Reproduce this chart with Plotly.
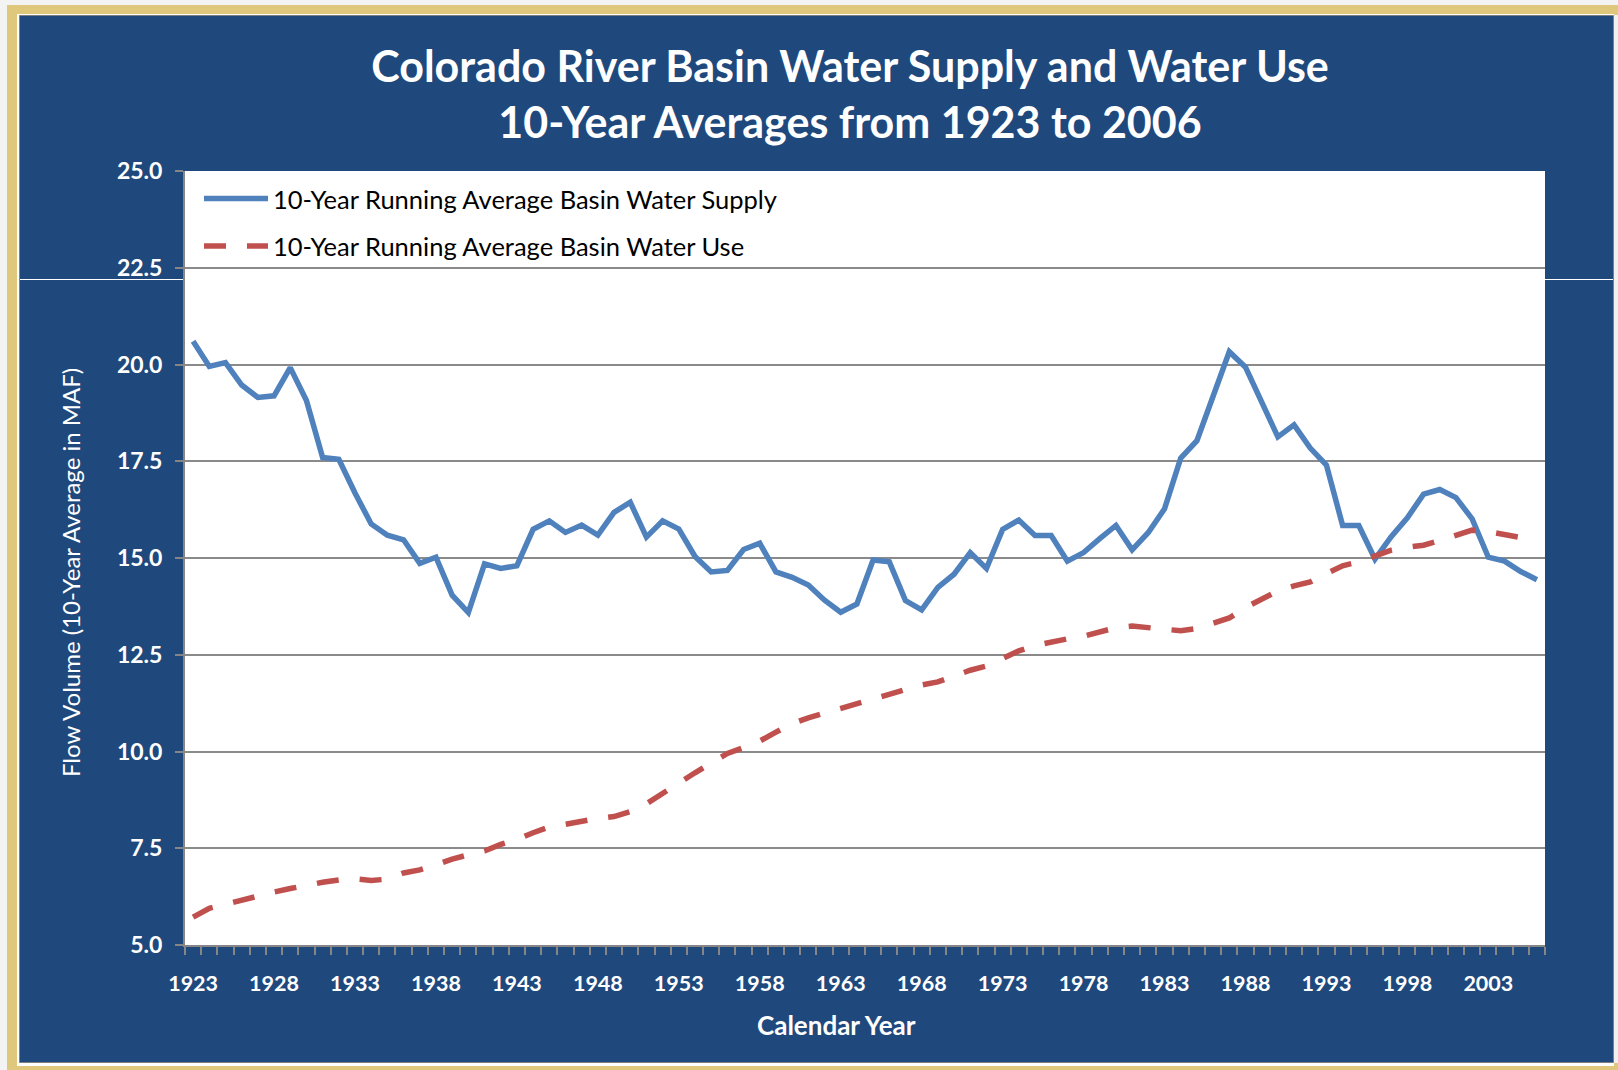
import plotly.graph_objects as go

years = list(range(1923, 2007))

supply = [20.6, 19.95, 20.05, 19.47, 19.15, 19.19, 19.92, 19.07, 17.6, 17.55,
          16.68, 15.88, 15.59, 15.47, 14.86, 15.02, 14.04, 13.59, 14.85, 14.73,
          14.8, 15.74, 15.96, 15.66, 15.85, 15.59, 16.18, 16.44, 15.54, 15.96,
          15.75, 15.04, 14.64, 14.68, 15.22, 15.38, 14.64, 14.5, 14.3, 13.91,
          13.6, 13.81, 14.95, 14.9, 13.9, 13.66, 14.24, 14.58, 15.14, 14.73,
          15.74, 15.98, 15.58, 15.58, 14.92, 15.14, 15.5, 15.84, 15.21, 15.66,
          16.27, 17.58, 18.03, 19.17, 20.33, 19.93, 19.02, 18.13, 18.44, 17.84,
          17.4, 15.84, 15.84, 14.97, 15.55, 16.04, 16.65, 16.77, 16.56, 16.01,
          15.02, 14.92, 14.65, 14.44]

use = [5.72, 5.95, 6.05, 6.16, 6.29, 6.37, 6.46, 6.55, 6.62, 6.68,
       6.71, 6.67, 6.70, 6.86, 6.94, 7.07, 7.22, 7.33, 7.43, 7.60,
       7.73, 7.90, 8.05, 8.12, 8.20, 8.27, 8.32, 8.45, 8.65, 8.93,
       9.17, 9.45, 9.70, 9.95, 10.10, 10.27, 10.50, 10.72, 10.87, 10.99,
       11.10, 11.22, 11.34, 11.46, 11.60, 11.72, 11.80, 11.95, 12.10, 12.21,
       12.40, 12.60, 12.74, 12.84, 12.91, 12.98, 13.10, 13.20, 13.24, 13.20,
       13.15, 13.12, 13.18, 13.32, 13.45, 13.72, 13.95, 14.15, 14.28, 14.38,
       14.60, 14.80, 14.90, 15.05, 15.20, 15.28, 15.33, 15.45, 15.60, 15.72,
       15.68, 15.60, 15.53, 15.40]

x_ticks = list(range(1923, 2004, 5))
y_ticks = [5.0, 7.5, 10.0, 12.5, 15.0, 17.5, 20.0, 22.5, 25.0]

series_names = ["10-Year Running Average Basin Water Supply",
                "10-Year Running Average Basin Water Use"]

title_text = "Colorado River Basin Water Supply and Water Use<br>10-Year Averages from 1923 to 2006"

W, H = 1618, 1070
L, R, T, B = 185, 1545, 171, 945
BLUE_BG = "#1F497D"
GOLD = "#DFC77C"
FONT = "Lato"

fig = go.Figure()
fig.add_trace(go.Scatter(
    x=years, y=supply, mode="lines", name=series_names[0],
    line=dict(color="#4F81BD", width=5.5), legend="legend"))
fig.add_trace(go.Scatter(
    x=years, y=use, mode="lines", name=series_names[1],
    line=dict(color="#C0504D", width=5.5, dash="22px,21px"), legend="legend2"))


def px_rect(x0, y0, x1, y1, fill, lw=0, lc=None):
    return dict(type="rect", xref="paper", yref="paper",
                x0=(x0 - L) / (R - L), x1=(x1 - L) / (R - L),
                y0=(B - y1) / (B - T), y1=(B - y0) / (B - T),
                fillcolor=fill, line=dict(width=lw, color=lc or fill), layer="below")


shapes = [
    px_rect(0, 0, W, H, "#F3F3F3"),
    px_rect(7, 5, W, H, GOLD),
    px_rect(1614, 15, W, 1063, "#F0F0F0"),
    px_rect(17, 14, 1614, 1066, "#FFFFFF"),
    px_rect(19.5, 15.5, 1613.5, 1062.5, BLUE_BG, lw=1, lc="#7F7F7F"),
    dict(type="line", xref="paper", yref="paper",
         x0=(20 - L) / (R - L), x1=(1613 - L) / (R - L),
         y0=(B - 279.5) / (B - T), y1=(B - 279.5) / (B - T),
         line=dict(color="#FFFFFF", width=1), layer="below"),
    dict(type="rect", xref="paper", yref="paper", x0=0, x1=1, y0=0, y1=1,
         fillcolor="#FFFFFF", line_width=0, layer="below"),
]

fig.update_layout(
    width=W, height=H,
    margin=dict(l=L, r=W - R, t=T, b=H - B, pad=0),
    paper_bgcolor="#F3F3F3",
    plot_bgcolor="#FFFFFF",
    font=dict(family=FONT, color="white"),
    title=dict(text=f"<b>{title_text}</b>", x=850 / W, xanchor="center",
               xref="container", y=1 - 82 / H, yanchor="middle", yref="container",
               font=dict(family=FONT, size=43, color="white")),
    shapes=shapes,
    showlegend=True,
    legend=dict(x=(199 - L) / (R - L), y=(B - 199) / (B - T), xanchor="left", yanchor="middle",
                bgcolor="rgba(0,0,0,0)", font=dict(family=FONT, size=25.5, color="black"),
                itemwidth=64, borderwidth=0),
    legend2=dict(x=(199 - L) / (R - L), y=(B - 246.5) / (B - T), xanchor="left", yanchor="middle",
                 bgcolor="rgba(0,0,0,0)", font=dict(family=FONT, size=25.5, color="black"),
                 itemwidth=64, borderwidth=0),
    xaxis=dict(range=[years[0] - 0.5, years[-1] + 0.5], tickmode="array", tickvals=x_ticks,
               ticktext=[str(v) for v in x_ticks], ticks="", showgrid=False, zeroline=False,
               showline=True, linecolor="#868686", linewidth=2,
               tickfont=dict(family=FONT, size=21.5, color="white", weight="bold"),
               ticklabelstandoff=18,
               minor=dict(tickmode="array", tickvals=[y - 0.5 for y in years] + [years[-1] + 0.5],
                          ticks="outside", ticklen=8, tickcolor="#868686", tickwidth=2,
                          showgrid=False)),
    yaxis=dict(range=[5, 25], tickmode="array", tickvals=y_ticks,
               ticktext=[f"{v:.1f}" for v in y_ticks], ticks="outside", ticklen=8,
               tickcolor="#868686", tickwidth=2, showgrid=True, gridcolor="#8A8A8A",
               gridwidth=1.5, zeroline=False, showline=True, linecolor="#868686", linewidth=2,
               tickfont=dict(family=FONT, size=23, color="white", weight="bold"),
               ticklabelstandoff=8),
    annotations=[
        dict(text="<b>Calendar Year</b>", xref="paper", yref="paper",
             x=(836 - L) / (R - L), y=(B - 1025) / (B - T), xanchor="center", yanchor="middle",
             showarrow=False, font=dict(family=FONT, size=26, color="white")),
        dict(text="Flow Volume (10-Year Average in MAF)", xref="paper", yref="paper",
             x=(70 - L) / (R - L), y=(B - 573) / (B - T), xanchor="center", yanchor="middle",
             textangle=-90, showarrow=False, font=dict(family=FONT, size=24, color="white")),
    ],
)

fig.write_html("out.html", config={"displayModeBar": False},
               post_script="document.body.style.margin='0';document.body.style.overflow='hidden';")
